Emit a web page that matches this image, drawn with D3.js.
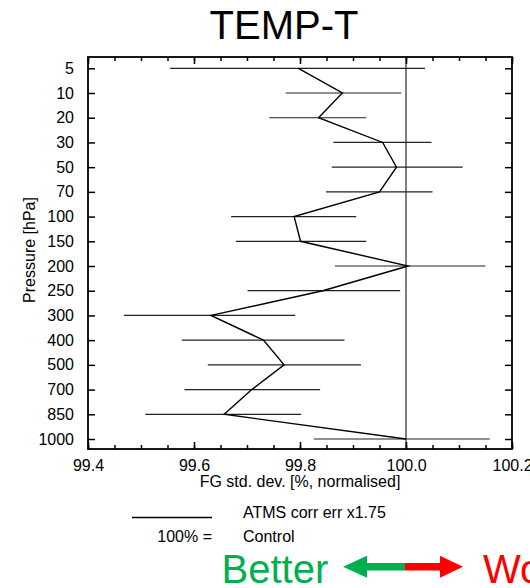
<!DOCTYPE html>
<html>
<head>
<meta charset="utf-8">
<script src="https://cdn.jsdelivr.net/npm/d3@7"></script>
<style>
  body { margin: 0; background: #fff; }
  svg { display: block; font-family: "Liberation Sans", Arial, sans-serif; }
</style>
</head>
<body>
<div id="chart"></div>
<script>
// niveaux de pression (hPa), de haut en bas
const levels = ["5", "10", "20", "30", "50", "70", "100", "150", "200", "250", "300", "400", "500", "700", "850", "1000"];
// FG std. dev. normalisée (%), ATMS corr err x1.75
const values = [99.797, 99.880, 99.835, 99.956, 99.982, 99.950, 99.789, 99.801, 100.004, 99.843, 99.632, 99.731, 99.770, 99.709, 99.657, 100.0];
// bornes des barres d'erreur
const errLow  = [99.555, 99.773, 99.742, 99.863, 99.860, 99.849, 99.670, 99.679, 99.866, 99.701, 99.468, 99.577, 99.626, 99.582, 99.508, 99.826];
const errHigh = [100.036, 99.991, 99.925, 100.048, 100.107, 100.050, 99.906, 99.925, 100.150, 99.989, 99.791, 99.884, 99.915, 99.838, 99.802, 100.158];
const xTicks = [99.4, 99.6, 99.8, 100.0, 100.2];
const xMinor = d3.range(99.4, 100.2001, 0.05);

const width = 530, height = 588;
const mLeft = 88, mRight = 512, mTop = 57, mBottom = 449;

const x = d3.scaleLinear().domain([99.4, 100.2]).range([mLeft, mRight]);
const y = d3.scalePoint().domain(levels).range([68.3, 439]);

const rows = levels.map((l, i) => ({ level: l, v: values[i], lo: errLow[i], hi: errHigh[i] }));

const svg = d3.create("svg")
    .attr("width", width)
    .attr("height", height);

// titre
svg.append("text")
    .attr("x", 284).attr("y", 39)
    .attr("text-anchor", "middle")
    .style("font-size", "40px")
    .text("TEMP-T");

// axes (ticks vers l'intérieur)
const fmt = d3.format(".1f");
svg.append("g")
    .attr("transform", `translate(0,${mBottom})`)
    .call(d3.axisBottom(x).tickValues(xTicks).tickSize(-7).tickPadding(11).tickFormat(fmt));
svg.append("g")
    .attr("transform", `translate(0,${mBottom})`)
    .call(d3.axisBottom(x).tickValues(xMinor).tickSize(-4).tickFormat(""));
svg.append("g")
    .attr("transform", `translate(0,${mTop})`)
    .call(d3.axisTop(x).tickValues(xTicks).tickSize(-7).tickFormat(""));
svg.append("g")
    .attr("transform", `translate(0,${mTop})`)
    .call(d3.axisTop(x).tickValues(xMinor).tickSize(-4).tickFormat(""));
svg.append("g")
    .attr("transform", `translate(${mLeft},0)`)
    .call(d3.axisLeft(y).tickSize(-7).tickPadding(14));
svg.append("g")
    .attr("transform", `translate(${mRight},0)`)
    .call(d3.axisRight(y).tickSize(-7).tickFormat(""));

svg.selectAll(".domain").remove();
svg.selectAll(".tick line").attr("stroke", "#000").attr("stroke-width", 1.5);
svg.selectAll(".tick text").attr("fill", "#000").style("font-size", "16px");

// cadre
svg.append("rect")
    .attr("x", mLeft).attr("y", mTop)
    .attr("width", mRight - mLeft).attr("height", mBottom - mTop)
    .attr("fill", "none").attr("stroke", "#000").attr("stroke-width", 1.8);

// ligne de référence 100%
svg.append("line")
    .attr("x1", x(100)).attr("x2", x(100))
    .attr("y1", mTop).attr("y2", mBottom)
    .attr("stroke", "#000").attr("stroke-width", 1);

// barres d'erreur
svg.append("g")
  .selectAll("line")
  .data(rows)
  .join("line")
    .attr("x1", d => x(d.lo)).attr("x2", d => x(d.hi))
    .attr("y1", d => y(d.level)).attr("y2", d => y(d.level))
    .attr("stroke", "#222").attr("stroke-width", 1.2);

// profil
svg.append("path")
    .datum(rows)
    .attr("fill", "none")
    .attr("stroke", "#000")
    .attr("stroke-width", 1.4)
    .attr("d", d3.line().x(d => x(d.v)).y(d => y(d.level)));

// titres des axes
svg.append("text")
    .attr("x", (mLeft + mRight) / 2).attr("y", 487)
    .attr("text-anchor", "middle")
    .style("font-size", "16px")
    .text("FG std. dev. [%, normalised]");
svg.append("text")
    .attr("transform", "translate(35,250) rotate(-90)")
    .attr("text-anchor", "middle")
    .style("font-size", "16px")
    .text("Pressure [hPa]");

// légende
svg.append("line")
    .attr("x1", 132).attr("x2", 212)
    .attr("y1", 517.5).attr("y2", 517.5)
    .attr("stroke", "#000").attr("stroke-width", 1.4);
svg.append("text")
    .attr("x", 243).attr("y", 518)
    .style("font-size", "16px")
    .text("ATMS corr err x1.75");
svg.append("text")
    .attr("x", 212).attr("y", 542)
    .attr("text-anchor", "end")
    .style("font-size", "16px")
    .text("100% =");
svg.append("text")
    .attr("x", 243).attr("y", 542)
    .style("font-size", "16px")
    .text("Control");

// Better <-> Worse
const green = "#00b050", red = "#ff0000";
const ay = 566.7;
svg.append("text")
    .attr("x", 221.5).attr("y", 583)
    .attr("fill", green)
    .style("font-size", "40px")
    .text("Better");
svg.append("path")
    .attr("fill", green)
    .attr("d", `M343,${ay} L367,${ay - 11} L367,${ay - 3.7} L405,${ay - 3.7} L405,${ay + 3.7} L367,${ay + 3.7} L367,${ay + 11} Z`);
svg.append("path")
    .attr("fill", red)
    .attr("d", `M463,${ay} L440,${ay - 11} L440,${ay - 3.7} L405,${ay - 3.7} L405,${ay + 3.7} L440,${ay + 3.7} L440,${ay + 11} Z`);
svg.append("text")
    .attr("x", 483).attr("y", 583)
    .attr("fill", red)
    .style("font-size", "40px")
    .text("Worse");

document.getElementById("chart").appendChild(svg.node());
</script>
</body>
</html>
